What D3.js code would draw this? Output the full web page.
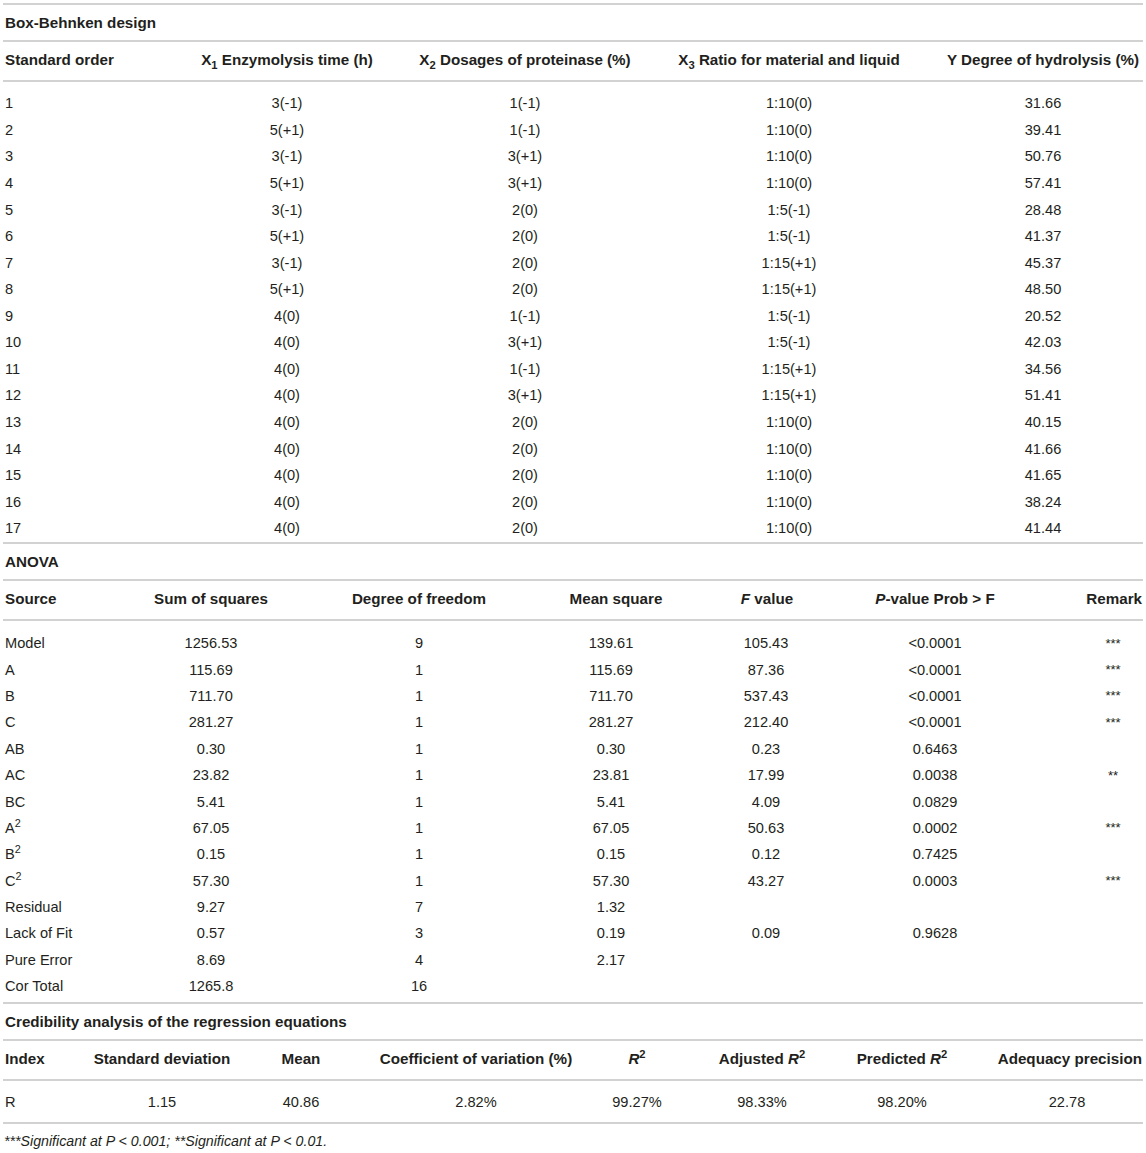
<!DOCTYPE html>
<html>
<head>
<meta charset="utf-8">
<script src="https://cdn.jsdelivr.net/npm/d3@7"></script>
<style>
  html,body{margin:0;padding:0;background:#fff;}
  svg{display:block;font-family:"Liberation Sans",Arial,Helvetica,sans-serif;}
</style>
</head>
<body>
<svg id="tbl" width="1146" height="1153"></svg>
<script>
/* ── data: Box-Behnken design ── */
var bbdOrder=['1','2','3','4','5','6','7','8','9','10','11','12','13','14','15','16','17'];
var bbdX1=['3(-1)','5(+1)','3(-1)','5(+1)','3(-1)','5(+1)','3(-1)','5(+1)','4(0)','4(0)','4(0)','4(0)','4(0)','4(0)','4(0)','4(0)','4(0)'];
var bbdX2=['1(-1)','1(-1)','3(+1)','3(+1)','2(0)','2(0)','2(0)','2(0)','1(-1)','3(+1)','1(-1)','3(+1)','2(0)','2(0)','2(0)','2(0)','2(0)'];
var bbdX3=['1:10(0)','1:10(0)','1:10(0)','1:10(0)','1:5(-1)','1:5(-1)','1:15(+1)','1:15(+1)','1:5(-1)','1:5(-1)','1:15(+1)','1:15(+1)','1:10(0)','1:10(0)','1:10(0)','1:10(0)','1:10(0)'];
var bbdY=['31.66','39.41','50.76','57.41','28.48','41.37','45.37','48.50','20.52','42.03','34.56','51.41','40.15','41.66','41.65','38.24','41.44'];

/* ── data: ANOVA ── */
var anovaSource=[['Model'],['A'],['B'],['C'],['AB'],['AC'],['BC'],['A','2'],['B','2'],['C','2'],['Residual'],['Lack of Fit'],['Pure Error'],['Cor Total']];
var anovaSS=['1256.53','115.69','711.70','281.27','0.30','23.82','5.41','67.05','0.15','57.30','9.27','0.57','8.69','1265.8'];
var anovaDF=['9','1','1','1','1','1','1','1','1','1','7','3','4','16'];
var anovaMS=['139.61','115.69','711.70','281.27','0.30','23.81','5.41','67.05','0.15','57.30','1.32','0.19','2.17',''];
var anovaF=['105.43','87.36','537.43','212.40','0.23','17.99','4.09','50.63','0.12','43.27','','0.09','',''];
var anovaP=['<0.0001','<0.0001','<0.0001','<0.0001','0.6463','0.0038','0.0829','0.0002','0.7425','0.0003','','0.9628','',''];
var anovaRemark=['***','***','***','***','','**','','***','','***','','','',''];

/* ── data: credibility ── */
var credValues=['R','1.15','40.86','2.82%','99.27%','98.33%','98.20%','22.78'];

var footnote='***Significant at P < 0.001; **Significant at P < 0.01.';

/* headers: arrays of [text, style] segments */
var hdr1=[
  [['Standard order']],
  [['X'],['1','sub'],[' Enzymolysis time (h)']],
  [['X'],['2','sub'],[' Dosages of proteinase (%)']],
  [['X'],['3','sub'],[' Ratio for material and liquid']],
  [['Y Degree of hydrolysis (%)']]
];
var hdr2=[
  [['Source']],[['Sum of squares']],[['Degree of freedom']],[['Mean square']],
  [['F','i'],[' value']],[['P','i'],['-value Prob > F']],[['Remark']]
];
var hdr3=[
  [['Index']],[['Standard deviation']],[['Mean']],[['Coefficient of variation (%)']],
  [['R','i'],['2','sup']],[['Adjusted '],['R','i'],['2','sup']],[['Predicted '],['R','i'],['2','sup']],[['Adequacy precision']]
];

var svg=d3.select('#tbl');
var INK='#231f20', RULE='#c3c3c3';
var FS=14.6, FSB=15.2;

function rule(y){
  svg.append('line').attr('x1',3).attr('x2',1143).attr('y1',y).attr('y2',y)
    .attr('stroke',RULE).attr('stroke-width',1.6);
}

function rich(x,y,anchor,segs,bold,size){
  var t=svg.append('text').attr('x',x).attr('y',y).attr('dy','0.36em')
    .attr('text-anchor',anchor).attr('fill',INK)
    .attr('font-size',size+'px').attr('font-weight',bold?'bold':'normal');
  var shift=0;
  segs.forEach(function(s){
    var sp=t.append('tspan').text(s[0]);
    var want=0;
    if(s[1]==='sub')want=4;
    if(s[1]==='sup')want=-6;
    if(want!==shift){sp.attr('dy',want-shift);shift=want;}
    if(s[1]==='sub'||s[1]==='sup')sp.attr('font-size',(size*0.74)+'px');
    if(s[1]==='i')sp.attr('font-style','italic');
  });
  return t;
}

function title(y,txt){
  svg.append('text').attr('x',5).attr('y',y).attr('dy','0.36em').attr('fill',INK)
    .attr('font-size',FSB+'px').attr('font-weight','bold').text(txt);
}

/* ══ Table 1 ══ */
var c1x=[5,287,525,789,1043], c1a=['start','middle','middle','middle','middle'];
rule(4); title(23,'Box-Behnken design'); rule(41);
hdr1.forEach(function(h,i){rich(c1x[i],60,c1a[i],h,true,FSB);});
rule(81);
var y1=d3.scaleLinear().domain([0,bbdOrder.length-1]).range([103,528]);
var cols1=[bbdOrder,bbdX1,bbdX2,bbdX3,bbdY];
cols1.forEach(function(col,ci){
  svg.append('g').selectAll('text').data(col).join('text')
    .attr('x',c1x[ci]).attr('y',function(d,i){return y1(i);}).attr('dy','0.36em')
    .attr('text-anchor',c1a[ci]).attr('fill',INK).attr('font-size',FS+'px')
    .text(function(d){return d;});
});
rule(543);

/* ══ Table 2 ══ */
title(562,'ANOVA'); rule(580);
var h2x=[5,211,419,616,767,935,1142], h2a=['start','middle','middle','middle','middle','middle','end'];
hdr2.forEach(function(h,i){rich(h2x[i],599,h2a[i],h,true,FSB);});
rule(620);
var y2=d3.scaleLinear().domain([0,anovaSource.length-1]).range([643,986]);
anovaSource.forEach(function(s,i){
  rich(5,y2(i),'start',s.length>1?[[s[0]],[s[1],'sup']]:[[s[0]]],false,FS);
});
var c2x=[211,419,611,766,935,1113];
[anovaSS,anovaDF,anovaMS,anovaF,anovaP,anovaRemark].forEach(function(col,ci){
  svg.append('g').selectAll('text').data(col).join('text')
    .attr('x',c2x[ci]).attr('y',function(d,i){return y2(i);}).attr('dy','0.36em')
    .attr('text-anchor','middle').attr('fill',INK).attr('font-size',(ci===5?13:FS)+'px')
    .text(function(d){return d;});
});
rule(1003);

/* ══ Table 3 ══ */
title(1022,'Credibility analysis of the regression equations'); rule(1040);
var c3x=[5,162,301,476,637,762,902,1067], c3a=['start','middle','middle','middle','middle','middle','middle','middle'];
hdr3.forEach(function(h,i){rich(i===7?1142:c3x[i],1059,i===7?'end':c3a[i],h,true,FSB);});
rule(1080);
svg.append('g').selectAll('text').data(credValues).join('text')
  .attr('x',function(d,i){return c3x[i];}).attr('y',1102).attr('dy','0.36em')
  .attr('text-anchor',function(d,i){return c3a[i];}).attr('fill',INK).attr('font-size',FS+'px')
  .text(function(d){return d;});
rule(1123);

svg.append('text').attr('x',4).attr('y',1141).attr('dy','0.36em').attr('fill',INK)
  .attr('font-size','14.2px').attr('font-style','italic').text(footnote);
</script>
</body>
</html>
